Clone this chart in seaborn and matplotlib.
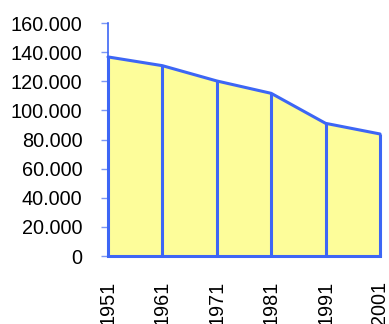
import matplotlib
matplotlib.use("Agg")
import matplotlib.pyplot as plt
import seaborn as sns
import pandas as pd
from matplotlib.ticker import FuncFormatter

years = [1951, 1961, 1971, 1981, 1991, 2001]
values = [136700, 130700, 120200, 111700, 91100, 83800]
y_ticks = [0, 20000, 40000, 60000, 80000, 100000, 120000, 140000, 160000]

df = pd.DataFrame({"year": years, "value": values})

sns.set_style("white")
plt.rcParams['font.family'] = ['Liberation Sans', 'DejaVu Sans']

blue = "#3D66F5"
fill = "#FDFD9A"

fig = plt.figure(figsize=(3.89, 3.24), dpi=100)
ax = fig.add_axes([108/389, (324-256)/324, (380-108)/389, (256-23)/324])

ax.fill_between(df["year"], 0, df["value"], color=fill, linewidth=0, zorder=1)
sns.lineplot(data=df, x="year", y="value", ax=ax, color=blue, linewidth=2.2,
             zorder=3, clip_on=False)
ax.vlines(df["year"], 0, df["value"], colors=blue, linewidth=2.2, zorder=3, clip_on=False)
ax.plot([years[0], years[-1]], [0, 0], color=blue, linewidth=2.2, zorder=3, clip_on=False,
        solid_capstyle="projecting")

ax.set_xlim(years[0], years[-1])
ax.set_ylim(0, 160000)
ax.set_yticks(y_ticks)
ax.yaxis.set_major_formatter(FuncFormatter(lambda v, p: f"{int(v):,}".replace(",", ".")))
ax.set_xticks(years)
ax.set_xticklabels([str(y) for y in years], rotation=90, va="top", ha="center")
ax.set_xlabel("")
ax.set_ylabel("")

for s in ["top", "right", "bottom"]:
    ax.spines[s].set_visible(False)
ax.spines["left"].set_color(blue)
ax.spines["left"].set_linewidth(1.2)

ax.tick_params(axis="y", left=True, length=5, width=1, color="#7C98F5",
               labelsize=14.3, pad=13.5, labelcolor="black")
ax.tick_params(axis="x", bottom=False, length=0, labelsize=14.3, pad=18, labelcolor="black")

fig.savefig("out.png", dpi=100)
